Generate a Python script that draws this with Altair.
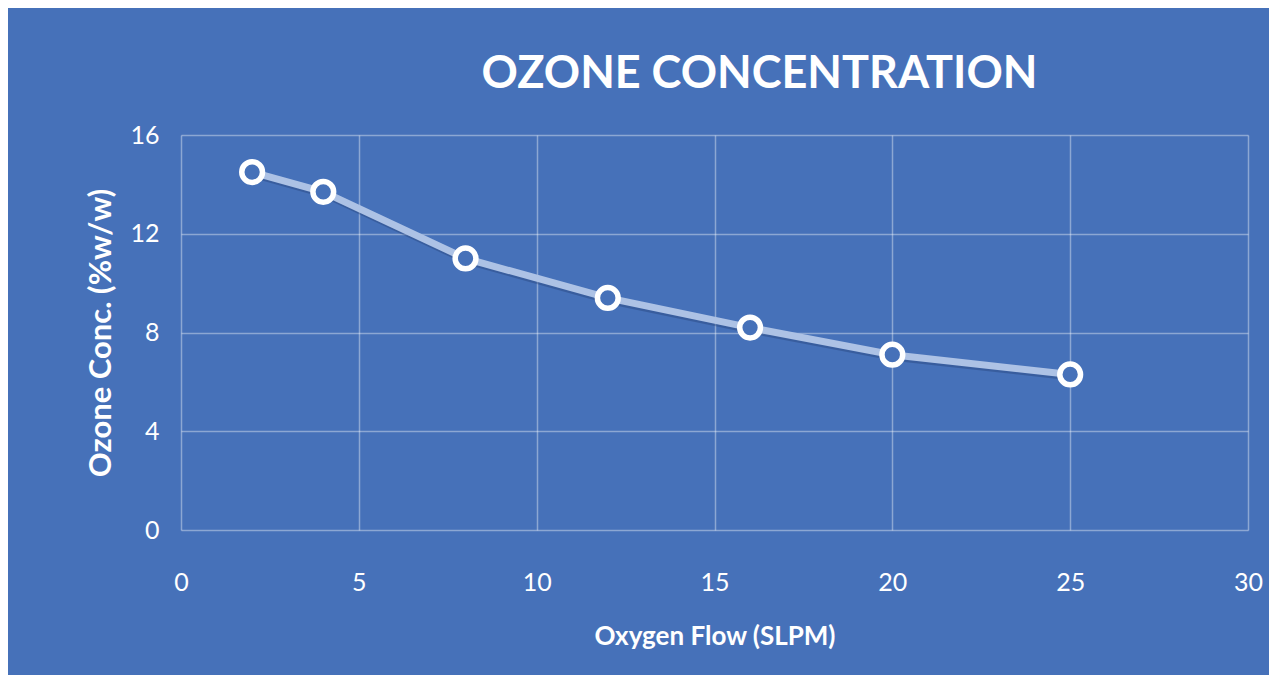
import altair as alt
import pandas as pd

flow = [2, 4, 8, 12, 16, 20, 25]
conc = [14.5, 13.7, 11.0, 9.4, 8.2, 7.1, 6.3]

x_ticks = [0, 5, 10, 15, 20, 25, 30]
y_ticks = [0, 4, 8, 12, 16]

BG = "#4671B9"

df = pd.DataFrame({"flow": flow, "conc": conc})

x = alt.X("flow:Q", scale=alt.Scale(domain=[0, 30], nice=False),
          axis=alt.Axis(values=x_ticks, title="Oxygen Flow (SLPM)", labelPadding=40,
                        titlePadding=28, titleFontSize=26, labelFlush=False))
y = alt.Y("conc:Q", scale=alt.Scale(domain=[0, 16], nice=False),
          axis=alt.Axis(values=y_ticks, title="Ozone Conc. (%w/w)", labelPadding=22,
                        titlePadding=12, titleFontSize=31, labelFlush=False))

base = alt.Chart(df).encode(x=x, y=y)

shadow = base.mark_line(color="#1f3a6e", strokeWidth=4, opacity=0.35, yOffset=4, xOffset=1)
line = base.mark_line(color="#adc2e5", strokeWidth=7, strokeCap="round")
pts = base.mark_point(shape="circle", size=430, filled=False, color="white",
                      strokeWidth=5.5, fill=BG, fillOpacity=1, opacity=1)

chart = alt.layer(shadow, line, pts).properties(
    width=1067, height=395,
    background=BG,
    autosize=alt.AutoSizeParams(type="none"),
    padding={"left": 173, "top": 127, "right": 21, "bottom": 145},
    title=alt.TitleParams("OZONE CONCENTRATION", font="Lato", fontSize=45,
                          fontWeight="bold", color="white", anchor="middle",
                          dx=45, offset=26),
).configure_view(stroke=None).configure_axis(
    grid=True, gridColor="white", gridOpacity=0.38, gridWidth=1.5,
    domain=False, ticks=False,
    labelFont="Lato", labelFontSize=25, labelColor="white", labelFontWeight="normal",
    titleFont="Lato", titleColor="white", titleFontWeight="bold",
).configure_axisY(labelBaseline="middle")

chart.save("out.html", embed_options={"renderer": "svg", "actions": False})
